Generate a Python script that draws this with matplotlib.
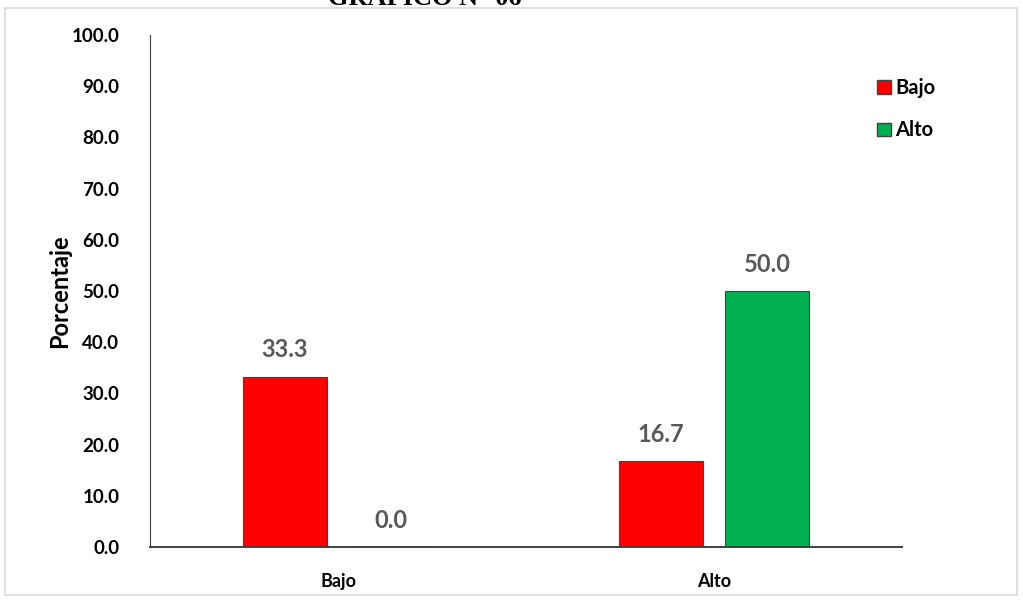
import numpy as np
import matplotlib
matplotlib.use("Agg")
import matplotlib.pyplot as plt
from matplotlib.patches import Rectangle, Patch

categories = ["Bajo", "Alto"]
series_names = ["Bajo", "Alto"]
bajo_vals = [33.3, 16.7]
alto_vals = [0.0, 50.0]
yticks = [0, 10, 20, 30, 40, 50, 60, 70, 80, 90, 100]

plt.rcParams['font.family'] = ['Lato', 'DejaVu Sans']

fig = plt.figure(figsize=(10.23, 6.01), dpi=100)
# light frame around the chart area
fig.patches.append(Rectangle((5 / 1023, 1 - 595 / 601), 1012 / 1023, 587 / 601,
                             transform=fig.transFigure, fill=False,
                             edgecolor="#d9d9d9", linewidth=1.2))
fig.text(0.415, 1 - 5 / 601, "GRÁFICO N° 06", family="Liberation Serif",
         fontsize=19, fontweight="bold", ha="center", va="baseline")

ax = fig.add_axes([150 / 1023, 1 - 547 / 601, 752 / 1023, 512 / 601])
x = np.arange(len(categories))
w = 0.223
off = 0.141
b1 = ax.bar(x - off, bajo_vals, w, color="#ff0000", edgecolor="#404040", linewidth=0.8)
b2 = ax.bar(x + off, alto_vals, w, color="#00b050", edgecolor="#404040", linewidth=0.8)
for bars, vals in ((b1, bajo_vals), (b2, alto_vals)):
    for b, v in zip(bars, vals):
        ax.annotate(f"{v:.1f}", (b.get_x() + b.get_width() / 2, v),
                    xytext=(0, 11), textcoords="offset points", ha="center",
                    va="bottom", fontsize=17, fontweight="bold", color="#595959")

ax.set_xlim(-0.5, 1.5)
ax.set_ylim(0, 100)
ax.set_yticks(yticks)
ax.set_yticklabels([f"{t:.1f}" for t in yticks], fontsize=13.5, fontweight="bold")
ax.set_xticks(x)
ax.set_xticklabels(categories, fontsize=13, fontweight="bold")
ax.tick_params(axis="both", length=0)
ax.tick_params(axis="y", pad=22)
ax.tick_params(axis="x", pad=19)
ax.set_ylabel("Porcentaje", fontsize=17, fontweight="bold", labelpad=0)
for s in ("top", "right"):
    ax.spines[s].set_visible(False)
ax.spines["left"].set_color("#404040")
ax.spines["bottom"].set_color("#404040")
ax.spines["bottom"].set_linewidth(1.4)

handles = [Patch(facecolor="#ff0000", edgecolor="#404040"),
           Patch(facecolor="#00b050", edgecolor="#404040")]
fig.legend(handles, series_names, loc="upper left", bbox_to_anchor=(0.84, 0.9),
           frameon=False, prop={"size": 14.5, "weight": "bold"},
           handlelength=0.65, handleheight=0.65, handletextpad=0.25, labelspacing=1.1)

fig.savefig("out.png", dpi=100)
